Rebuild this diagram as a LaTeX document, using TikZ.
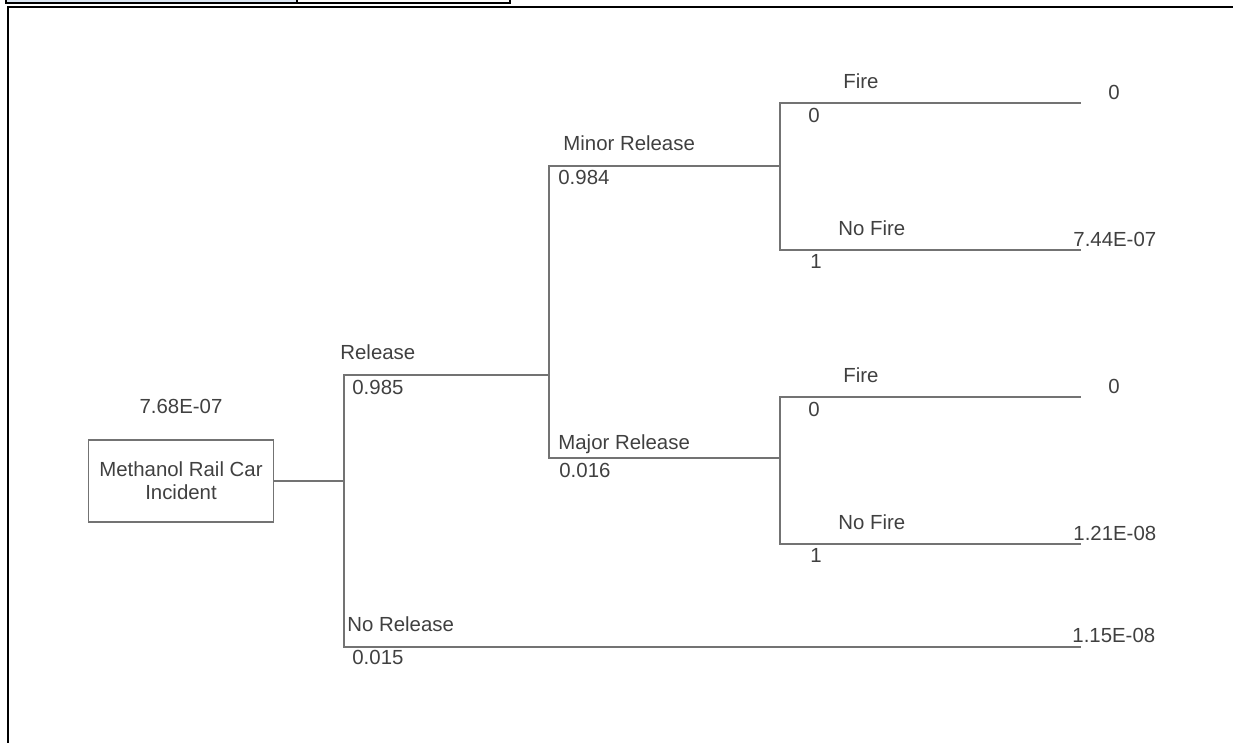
\documentclass[tikz,border=0pt]{standalone}
\usepackage{fontspec}
\setmainfont{Liberation Sans}
\usetikzlibrary{positioning}

\definecolor{hdrblue}{HTML}{DCE6F2}

\tikzset{
  branch/.style={draw=black!55, line width=0.75pt, line cap=rect},
  lbl/.style={font=\fontsize{10.2}{11.5}\selectfont, text=black!75, inner sep=0pt,
    text height=7.3pt, text depth=0pt, anchor=west},
  event/.style={draw=black!55, line width=0.75pt, minimum width=92.5pt,
    minimum height=41pt, align=center, font=\fontsize{10.2}{11.5}\selectfont,
    text=black!75}
}

\begin{document}
\begin{tikzpicture}[x=0.5pt, y=-0.5pt]
\useasboundingbox (0,0) rectangle (1233,743);

% --- Page frame and header strip ---
\fill[hdrblue] (6,-4) rectangle (297,3);
\draw[line width=0.8pt] (6,-4) |- (510,3) -- (510,-4);
\draw[line width=0.8pt] (297,-4) -- (297,3);
\draw[line width=1.1pt] (8,743) |- (1233,7);

% --- Root event ---
\node[event] (root) at (181,481) {Methanol Rail Car\\Incident};
\node[lbl, above=12.9pt of root] (rootval) {7.68E-07};

% --- Junction points ---
\coordinate (j0) at (344,481);
\coordinate (rel) at (344,375);
\coordinate (norel) at (344,647);
\coordinate (relend) at (549,375);
\coordinate (minor) at (549,166);
\coordinate (major) at (549,458);
\coordinate (j2) at (780,166);
\coordinate (j3) at (780,458);
\coordinate (norelend) at (1080,647);

% --- Release / No Release ---
\draw[branch] (root) -- (j0);
\draw[branch] (rel) -- (norel);
\draw[branch] (rel) -- (relend);
\draw[branch] (norel) -- (norelend);
\node[lbl] (rellbl) at (340,352) {Release};
\node[lbl] (relp) at (352,387) {0.985};
\node[lbl] (norellbl) at (347,624) {No Release};
\node[lbl] (norelp) at (352,657) {0.015};
\node[lbl] (norelval) at (1072,635) {1.15E-08};

% --- Minor / Major Release ---
\draw[branch] (minor) -- (major);
\draw[branch] (minor) -- (j2);
\draw[branch] (major) -- (j3);
\node[lbl] (minorlbl) at (563,143) {Minor Release};
\node[lbl] (minorp) at (558,177) {0.984};
\node[lbl] (majorlbl) at (558,442) {Major Release};
\node[lbl] (majorp) at (559,470) {0.016};

% --- Fire / No Fire sub-trees ---
\foreach \n/\dy/\val in {1/0/7.44E-07, 2/294/1.21E-08} {
  \coordinate (fire\n) at (780,{103+\dy});
  \coordinate (nofire\n) at (780,{250+\dy});
  \coordinate (fireend\n) at (1080,{103+\dy});
  \coordinate (nofireend\n) at (1080,{250+\dy});
  \draw[branch] (fire\n) -- (nofire\n);
  \draw[branch] (fire\n) -- (fireend\n);
  \draw[branch] (nofire\n) -- (nofireend\n);
  \node[lbl] (firelbl\n) at (843,{81+\dy}) {Fire};
  \node[lbl] (firep\n) at (808,{115+\dy}) {0};
  \node[lbl] (fireval\n) at (1108,{92+\dy}) {0};
  \node[lbl] (nofirelbl\n) at (838,{228+\dy}) {No Fire};
  \node[lbl] (nofirep\n) at (810,{261+\dy}) {1};
  \node[lbl] (nofireval\n) at (1073,{239+\dy}) {\val};
}

\end{tikzpicture}
\end{document}
